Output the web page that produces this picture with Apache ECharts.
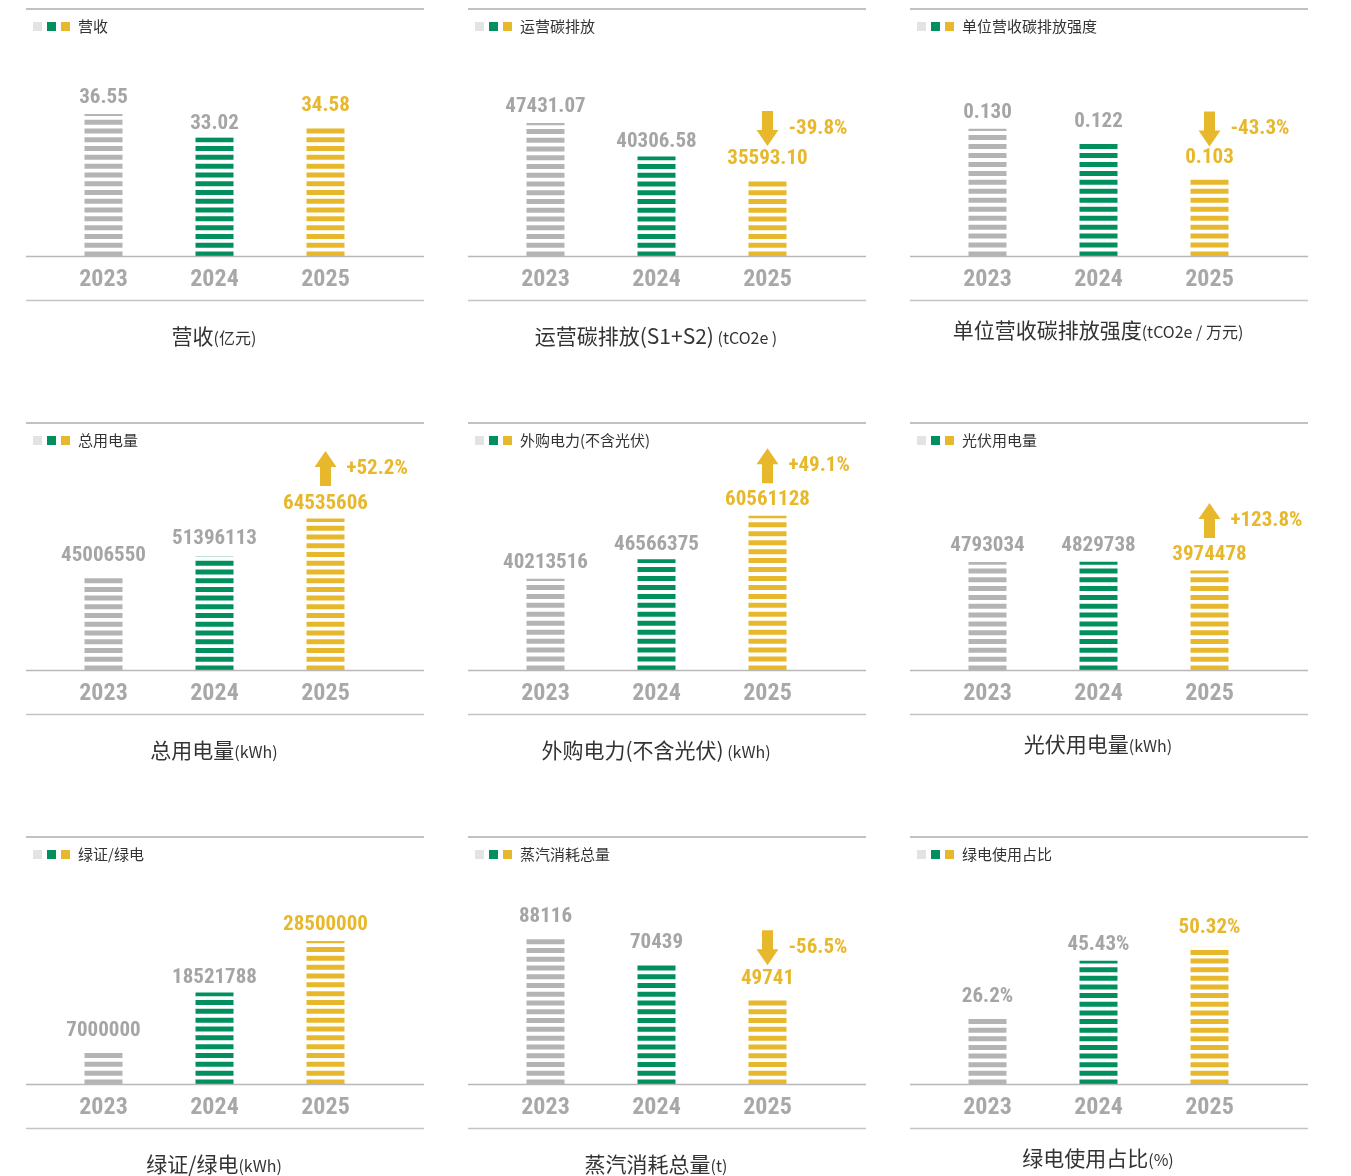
<!DOCTYPE html>
<html>
<head>
<meta charset="utf-8">
<title>年度数据对比</title>
<script src="https://cdn.jsdelivr.net/npm/echarts@6/dist/echarts.min.js"></script>
<style>
  html, body { margin: 0; padding: 0; background: #fff; }
  #main { width: 1351px; height: 1176px; }
</style>
</head>
<body>
<div id="main"></div>
<script>
// 年份
const years = ['2023', '2024', '2025'];

// 各指标数值
const revenue = [36.55, 33.02, 34.58];
const carbon = [47431.07, 40306.58, 35593.10];
const intensity = [0.130, 0.122, 0.103];
const totalPower = [45006550, 51396113, 64535606];
const boughtPower = [40213516, 46566375, 60561128];
const pvPower = [4793034, 4829738, 3974478];
const greenCert = [7000000, 18521788, 28500000];
const steam = [88116, 70439, 49741];
const greenShare = [26.2, 45.43, 50.32];

// 2025 变化幅度(%)
const carbonChange = -39.8;
const intensityChange = -43.3;
const totalPowerChange = 52.2;
const boughtPowerChange = 49.1;
const pvPowerChange = 123.8;
const steamChange = -56.5;

const GRAY = '#b4b4b4', GREEN = '#008f5d', YELLOW = '#e8b82c';
const barColors = [GRAY, GREEN, YELLOW];
const labelColors = ['#a5a5a5', '#a5a5a5', YELLOW];
const legendColors = ['#e3e3e3', GREEN, YELLOW];
const NARROW = '"Liberation Sans Narrow", "Arial Narrow", "Roboto Condensed", Roboto, sans-serif';
const CJK = '"Noto Sans CJK SC", "Noto Sans", sans-serif';

const ARROW_UP = 'path://M11 0 L22 16 L16.5 16 L16.5 35 L5.5 35 L5.5 16 L0 16 Z';
const ARROW_DOWN = 'path://M5.5 0 L16.5 0 L16.5 19 L22 19 L11 35 L0 19 L5.5 19 Z';

// 每个小图：指标、单位、数值格式、纵轴范围
const panels = [
  { tag: '营收', title: '营收', unit: '(亿元)', data: revenue, digits: 2, min: 15, max: 43.3 },
  { tag: '运营碳排放', title: '运营碳排放(S1+S2)', unit: ' (tCO2e )', data: carbon, digits: 2, change: carbonChange, min: 19000, max: 58800 },
  { tag: '单位营收碳排放强度', title: '单位营收碳排放强度', unit: '(tCO2e / 万元)', data: intensity, digits: 3, change: intensityChange, min: 0.0612, max: 0.162 },
  { tag: '总用电量', title: '总用电量', unit: '(kWh)', data: totalPower, digits: 0, change: totalPowerChange, min: 12460000, max: 76500000 },
  { tag: '外购电力(不含光伏)', title: '外购电力(不含光伏)', unit: ' (kWh)', data: boughtPower, digits: 0, change: boughtPowerChange, min: 10600000, max: 71000000 },
  { tag: '光伏用电量', title: '光伏用电量', unit: '(kWh)', data: pvPower, digits: 0, change: pvPowerChange, min: -5620000, max: 12340000 },
  { tag: '绿证/绿电', title: '绿证/绿电', unit: '(kWh)', data: greenCert, digits: 0, min: 670000, max: 36960000 },
  { tag: '蒸汽消耗总量', title: '蒸汽消耗总量', unit: '(t)', data: steam, digits: 0, change: steamChange, min: -4065, max: 112084 },
  { tag: '绿电使用占比', title: '绿电使用占比', unit: '(%)', data: greenShare, digits: null, suffix: '%', min: 2.77, max: 67.2 }
];

const colX = [26, 468, 910];
const rowY = [9, 423, 837];
const panelW = 398;

let grids = [], xAxes = [], yAxes = [], series = [], graphics = [];

panels.forEach(function (p, i) {
  const c = i % 3, r = Math.floor(i / 3);
  const x0 = colX[c], y0 = rowY[r];

  grids.push({ left: x0 + 22, top: y0 + 60.5, width: 333, height: 187 });
  xAxes.push({
    type: 'category', gridIndex: i, data: years,
    axisLine: { show: false }, axisTick: { show: false },
    axisLabel: { margin: 11, fontSize: 24, fontWeight: 'bold', color: '#a8a8a8', fontFamily: NARROW }
  });
  yAxes.push({ type: 'value', gridIndex: i, show: false, min: p.min, max: p.max, startValue: p.min, splitLine: { show: false } });

  series.push({
    type: 'pictorialBar', xAxisIndex: i, yAxisIndex: i,
    symbol: 'rect', symbolRepeat: true, symbolClip: true,
    symbolSize: [38, 5], symbolMargin: 2, symbolPosition: 'start',
    data: p.data.map(function (v, k) {
      return { value: v, itemStyle: { color: barColors[k] }, label: { color: labelColors[k] } };
    }),
    label: {
      show: true, position: 'top', distance: 3, fontSize: 21, fontWeight: 'bold', fontFamily: NARROW,
      formatter: function (params) {
        let v = params.value;
        return (p.digits == null ? String(v) : v.toFixed(p.digits)) + (p.suffix || '');
      }
    },
    z: 2
  });

  if (p.change != null) {
    series.push({
      type: 'scatter', xAxisIndex: i, yAxisIndex: i, clip: false, silent: true,
      data: [[years[2], p.data[2]]],
      symbol: p.change < 0 ? ARROW_DOWN : ARROW_UP,
      symbolSize: [22, 35], symbolOffset: [0, -50],
      itemStyle: { color: YELLOW, opacity: 1 },
      label: {
        show: true, position: 'right', distance: 10, color: YELLOW, fontSize: 21, fontWeight: 'bold', fontFamily: NARROW,
        formatter: (p.change > 0 ? '+' : '') + p.change.toFixed(1) + '%'
      },
      z: 3
    });
  }

  // 分隔线
  graphics.push({ type: 'line', shape: { x1: x0, y1: y0, x2: x0 + panelW, y2: y0 }, style: { stroke: '#adadad', lineWidth: 1.5 }, z: 1 });
  graphics.push({ type: 'line', shape: { x1: x0, y1: y0 + 247.5, x2: x0 + panelW, y2: y0 + 247.5 }, style: { stroke: '#b8b8b8', lineWidth: 1.5 }, z: 10 });
  graphics.push({ type: 'line', shape: { x1: x0, y1: y0 + 291.5, x2: x0 + panelW, y2: y0 + 291.5 }, style: { stroke: '#c4c4c4', lineWidth: 1.5 }, z: 1 });

  // 小图例
  legendColors.forEach(function (col, k) {
    graphics.push({ type: 'rect', shape: { x: x0 + 7 + k * 14, y: y0 + 13, width: 9, height: 9 }, style: { fill: col } });
  });
  graphics.push({
    type: 'text', x: x0 + 52, y: y0 + 17.5,
    style: { text: p.tag, fill: '#333', fontSize: 15, fontFamily: CJK, verticalAlign: 'middle' }
  });

  // 底部标题
  graphics.push({
    type: 'text', x: x0 + 188, y: y0 + (c === 2 ? 321 : 327),
    style: {
      text: '{a|' + p.title + '}{b|' + p.unit + '}',
      align: 'center', verticalAlign: 'middle',
      rich: {
        a: { fontSize: 21, fill: '#333', color: '#333', fontFamily: CJK, verticalAlign: 'bottom' },
        b: { fontSize: 16, fill: '#333', color: '#333', fontFamily: CJK, verticalAlign: 'bottom', padding: [0, 0, 1, 0] }
      }
    }
  });
});

const myChart = echarts.init(document.getElementById('main'));
myChart.setOption({
  backgroundColor: '#fff',
  animation: false,
  grid: grids,
  xAxis: xAxes,
  yAxis: yAxes,
  series: series,
  graphic: graphics
});
</script>
</body>
</html>
